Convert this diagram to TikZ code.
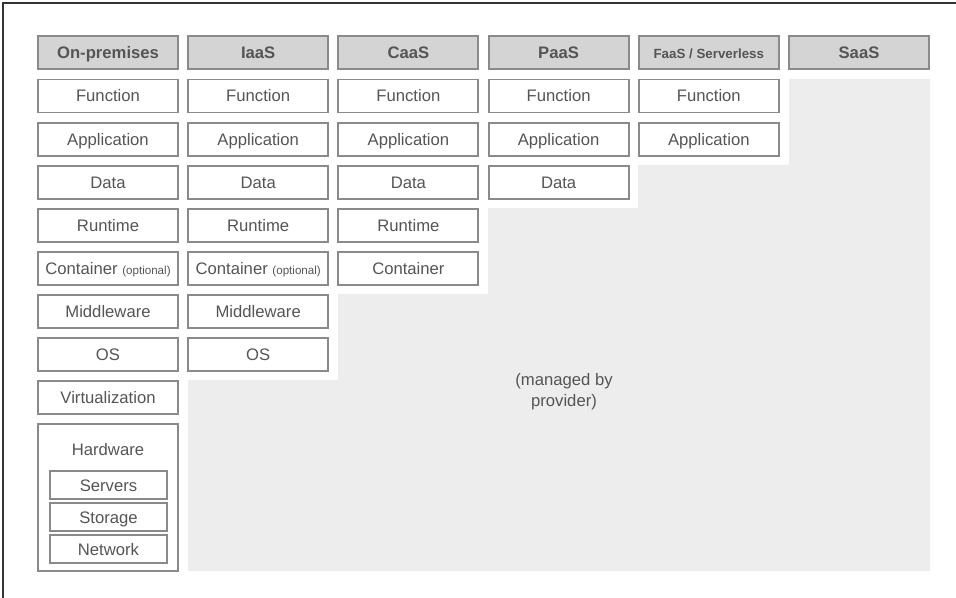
\documentclass[tikz,border=0pt]{standalone}
\usepackage{fontspec}
\setmainfont{Liberation Sans}
\definecolor{edge}{HTML}{8A8A8A}
\definecolor{ink}{HTML}{555555}
\definecolor{headfill}{HTML}{D4D4D4}
\definecolor{managed}{HTML}{EDEDED}
\definecolor{frame}{HTML}{333333}
\begin{document}
\begin{tikzpicture}[x=0.75pt,y=-0.75pt,
  cell/.style={draw=edge,line width=1.4pt,fill=white,minimum width=105pt,minimum height=24.75pt,
    inner sep=0pt,text=ink,font=\fontsize{12.5}{14}\selectfont,text height=0.9em,text depth=0pt},
  head/.style={cell,fill=headfill,font=\fontsize{12.5}{14}\selectfont\bfseries},
  sub/.style={draw=edge,line width=1.4pt,fill=white,minimum width=87.75pt,minimum height=21pt,
    inner sep=0pt,text=ink,font=\fontsize{12.5}{14}\selectfont,text height=0.9em,text depth=0pt},
  note/.style={text=ink,font=\fontsize{12.5}{15.75}\selectfont,align=center,inner sep=0pt}]
\useasboundingbox (0,0) rectangle (956,598);
% outer frame (only its top and left sides fall on the page)
\draw[frame,line width=0.9pt] (3,598) -- (3,3) -- (956,3);
% area handled by the provider
\fill[managed] (188,571) -- (188,380) -- (338,380) -- (338,294) -- (488,294) -- (488,208)
  -- (638,208) -- (638,165) -- (789,165) -- (789,79) -- (930,79) -- (930,571) -- cycle;
\node[note] (mgd) at (564,392) {(managed by\\provider)};
% column headers
\node[head] (h1) at (108,52.5) {On-premises};
\node[head] (h2) at (258.2,52.5) {IaaS};
\node[head] (h3) at (408.4,52.5) {CaaS};
\node[head] (h4) at (558.6,52.5) {PaaS};
\node[head,font=\fontsize{10}{12}\selectfont\bfseries,text height=0.85em] (h5) at (708.8,52.5) {FaaS / Serverless};
\node[head] (h6) at (859,52.5) {SaaS};
% On-premises stack
\node[cell] (a1) at (108,96) {Function};
\node[cell] (a2) at (108,139.1) {Application};
\node[cell] (a3) at (108,182.2) {Data};
\node[cell] (a4) at (108,225.3) {Runtime};
\node[cell] (a5) at (108,268.4) {Container {\fontsize{8.7}{10}\selectfont(optional)}};
\node[cell] (a6) at (108,311.5) {Middleware};
\node[cell] (a7) at (108,354.6) {OS};
\node[cell] (a8) at (108,397.7) {Virtualization};
\node[draw=edge,line width=1.4pt,fill=white,minimum width=105pt,minimum height=110.25pt,inner sep=0pt] (hw) at (108,497.5) {};
\node[text=ink,font=\fontsize{12.5}{14}\selectfont,inner sep=0pt,text height=0.9em,text depth=0pt] (hwl) at (108,449) {Hardware};
\node[sub] (s1) at (108.5,485) {Servers};
\node[sub] (s2) at (108.5,517) {Storage};
\node[sub] (s3) at (108.5,549) {Network};
% IaaS stack
\node[cell] (b1) at (258.2,96) {Function};
\node[cell] (b2) at (258.2,139.1) {Application};
\node[cell] (b3) at (258.2,182.2) {Data};
\node[cell] (b4) at (258.2,225.3) {Runtime};
\node[cell] (b5) at (258.2,268.4) {Container {\fontsize{8.7}{10}\selectfont(optional)}};
\node[cell] (b6) at (258.2,311.5) {Middleware};
\node[cell] (b7) at (258.2,354.6) {OS};
% CaaS stack
\node[cell] (c1) at (408.4,96) {Function};
\node[cell] (c2) at (408.4,139.1) {Application};
\node[cell] (c3) at (408.4,182.2) {Data};
\node[cell] (c4) at (408.4,225.3) {Runtime};
\node[cell] (c5) at (408.4,268.4) {Container};
% PaaS stack
\node[cell] (d1) at (558.6,96) {Function};
\node[cell] (d2) at (558.6,139.1) {Application};
\node[cell] (d3) at (558.6,182.2) {Data};
% FaaS stack
\node[cell] (e1) at (708.8,96) {Function};
\node[cell] (e2) at (708.8,139.1) {Application};
\end{tikzpicture}
\end{document}
